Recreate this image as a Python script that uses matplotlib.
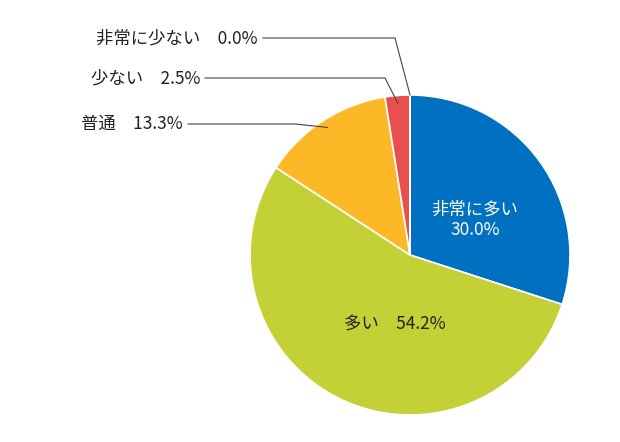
import numpy as np
import matplotlib
matplotlib.use("Agg")
import matplotlib.pyplot as plt

plt.rcParams['font.family'] = ['Noto Sans CJK JP', 'DejaVu Sans']

labels = ["非常に多い", "多い", "普通", "少ない", "非常に少ない"]
values = [30.0, 54.2, 13.3, 2.5, 0.0]
colors = ["#0070C0", "#C3D137", "#FDB827", "#E8504F", "#999999"]

W, H = 620, 442
fig = plt.figure(figsize=(W / 100, H / 100), dpi=100)
ax = fig.add_axes([0, 0, 1, 1])
ax.set_xlim(0, W)
ax.set_ylim(0, H)
ax.set_aspect("equal")
ax.axis("off")

cx, cy, r = 410, H - 255, 160
ax.pie(values, colors=colors, startangle=90, counterclock=False,
       center=(cx, cy), radius=r, frame=True,
       wedgeprops=dict(edgecolor="white", linewidth=1.2))
ax.set_xlim(0, W)
ax.set_ylim(0, H)
ax.axis("off")

# inside labels
ax.text(475, H - 220, f"{labels[0]}\n{values[0]:.1f}%", color="white",
        fontsize=12.5, ha="center", va="center", linespacing=1.2)
ax.text(395, H - 325, f"{labels[1]}　{values[1]:.1f}%", color="#222222",
        fontsize=12.5, ha="center", va="center")

# outside labels with leader lines (angle from top, clockwise)
cum = np.cumsum([0] + values)
outer = [(4, 38, 258, 395), (3, 78, 200, 385), (2, 124, 183, 295)]
for i, ty, tx_end, bend_x in outer:
    mid = (cum[i] + cum[i + 1]) / 2 / 100 * 360
    a = np.deg2rad(90 - mid)
    px = cx + (r - 8) * np.cos(a) if values[i] > 0 else cx
    py = cy + (r - 8) * np.sin(a) if values[i] > 0 else cy + r
    ax.text(tx_end, H - ty, f"{labels[i]}　{values[i]:.1f}%", fontsize=12.5,
            ha="right", va="center", color="#222222")
    ax.plot([tx_end + 5, bend_x, px], [H - ty, H - ty, py],
            color="#444444", linewidth=0.8)

fig.savefig("out.png", dpi=100)
